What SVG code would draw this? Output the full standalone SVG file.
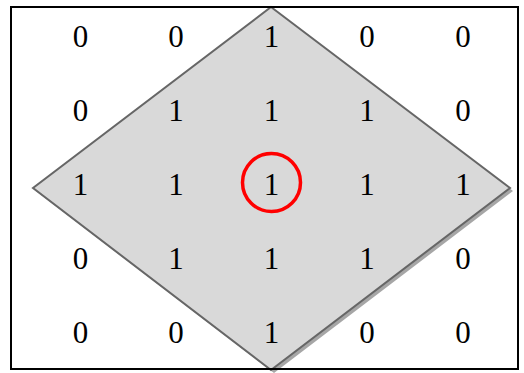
<svg xmlns="http://www.w3.org/2000/svg" width="524" height="373" viewBox="0 0 524 373">
<style>
text{font-family:"Liberation Serif","Times New Roman",serif;font-size:31px;fill:#000;text-anchor:middle}
</style>
<rect width="524" height="373" fill="#fff"/>
<g id="diamond">
<polygon points="274,10 513,191 274,373 36,191" fill="#a6a6a6"/>
<polygon points="271,7 510,188 271,370 33,188" fill="#d9d9d9" stroke="#666" stroke-width="2"/>
</g>
<rect id="frame" x="11" y="7" width="507" height="362" fill="none" stroke="#000" stroke-width="2"/>
<g id="grid">
<text x="80.5" y="47">0</text><text x="176" y="47">0</text><text x="271.5" y="47">1</text><text x="367" y="47">0</text><text x="463" y="47">0</text>
<text x="80.5" y="121">0</text><text x="176" y="121">1</text><text x="271.5" y="121">1</text><text x="367" y="121">1</text><text x="463" y="121">0</text>
<text x="80.5" y="195">1</text><text x="176" y="195">1</text><text x="271.5" y="195">1</text><text x="367" y="195">1</text><text x="463" y="195">1</text>
<text x="80.5" y="269">0</text><text x="176" y="269">1</text><text x="271.5" y="269">1</text><text x="367" y="269">1</text><text x="463" y="269">0</text>
<text x="80.5" y="343">0</text><text x="176" y="343">0</text><text x="271.5" y="343">1</text><text x="367" y="343">0</text><text x="463" y="343">0</text>
</g>
<circle id="highlight" cx="271.5" cy="182.5" r="29" fill="none" stroke="#f00" stroke-width="3.5"/>
</svg>
